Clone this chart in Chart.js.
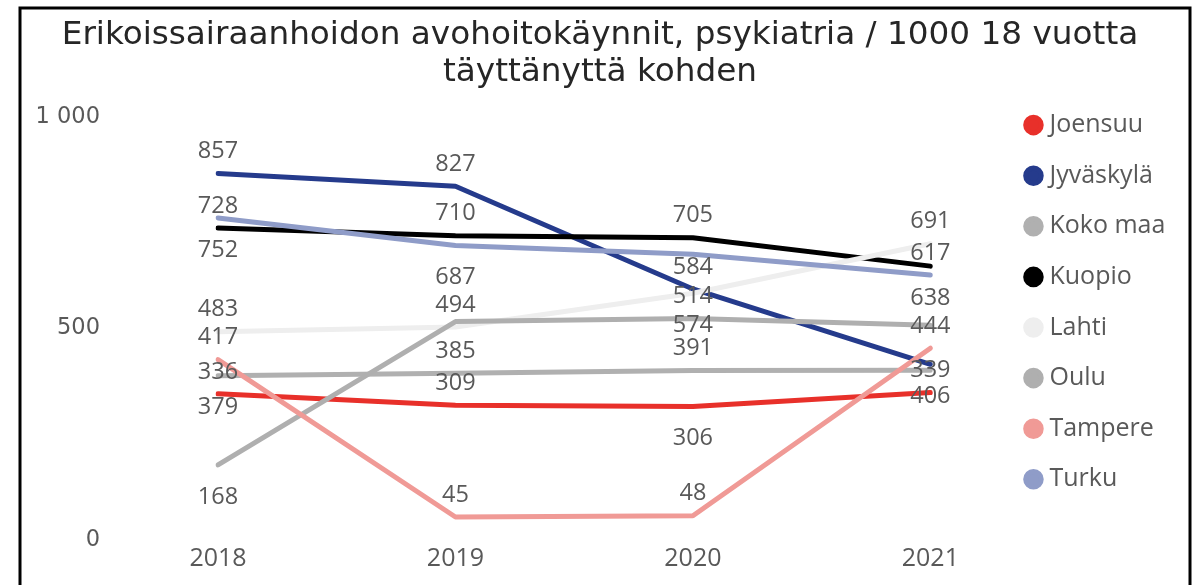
<!DOCTYPE html>
<html>
<head>
<meta charset="utf-8">
<script src="https://cdn.jsdelivr.net/npm/chart.js@4"></script>
<style>
  html, body { margin: 0; padding: 0; background: #fff; }
  #wrap { width: 1202px; height: 585px; }
</style>
</head>
<body>
<div id="wrap"><canvas id="myChart" width="1202" height="585"></canvas></div>
<script>
const years = ["2018", "2019", "2020", "2021"];
const seriesNames = ["Joensuu", "Jyväskylä", "Koko maa", "Kuopio", "Lahti", "Oulu", "Tampere", "Turku"];

const joensuu = [336, 309, 306, 339];
const jyvaskyla = [857, 827, 584, 406];
const kokoMaa = [379, 385, 391, 392];
const kuopio = [728, 710, 705, 638];
const lahti = [483, 494, 574, 691];
const oulu = [168, 507, 514, 498];
const tampere = [417, 45, 48, 444];
const turku = [752, 687, 666, 617];

const yTicks = [0, 500, 1000];

// where each value label sits: "a" above the point, "b" below, null = no label
const labelSpots = [
  ["a", "a", "b", "a"],
  ["a", "a", "a", "b"],
  ["b", "a", "a", null],
  ["a", "a", "a", "b"],
  ["a", "a", "b", "a"],
  ["b", null, "a", null],
  ["a", "a", "a", "a"],
  ["b", "b", null, "a"],
];

const colors = ["#e8302a", "#253b8c", "#b0b0b0", "#000000", "#eeeeee", "#afafaf", "#f09a96", "#8f9cc8"];
const allValues = [joensuu, jyvaskyla, kokoMaa, kuopio, lahti, oulu, tampere, turku];

const textGray = "#595959";
Chart.defaults.font.family = "'Open Sans', sans-serif";

function fmt(v) {
  return String(v).replace(/\B(?=(\d{3})+(?!\d))/g, " ");
}

const datasets = [];
for (let i = 0; i < seriesNames.length; i++) {
  datasets.push({
    label: seriesNames[i],
    data: allValues[i],
    borderColor: colors[i],
    backgroundColor: colors[i],
    borderWidth: 5,
    borderCapStyle: "round",
    borderJoinStyle: "round",
    pointRadius: 0,
    pointHoverRadius: 0,
    pointStyle: "circle",
    tension: 0,
    order: seriesNames.length - i, // later series drawn on top, like the original
  });
}

// white background and the outer frame
const framePlugin = {
  id: "frame",
  beforeDraw(chart) {
    const ctx = chart.ctx;
    ctx.save();
    ctx.fillStyle = "#fff";
    ctx.fillRect(0, 0, chart.width, chart.height);
    ctx.strokeStyle = "#000";
    ctx.lineWidth = 3;
    ctx.strokeRect(20, 8, 1170, 700);
    ctx.restore();
  },
};

// value labels above / below the points
const valueLabels = {
  id: "valueLabels",
  afterDatasetsDraw(chart) {
    const ctx = chart.ctx;
    ctx.save();
    ctx.font = "23.5px 'Open Sans', sans-serif";
    ctx.fillStyle = textGray;
    ctx.textAlign = "center";
    ctx.textBaseline = "middle";
    chart.data.datasets.forEach((ds, d) => {
      const meta = chart.getDatasetMeta(d);
      meta.data.forEach((pt, i) => {
        const spot = labelSpots[d][i];
        if (!spot) return;
        const dy = spot === "a" ? -22 : 32;
        ctx.fillText(fmt(ds.data[i]), pt.x, pt.y + dy);
      });
    });
    ctx.restore();
  },
};

new Chart(document.getElementById("myChart"), {
  type: "line",
  data: { labels: years, datasets: datasets },
  plugins: [framePlugin, valueLabels],
  options: {
    responsive: false,
    animation: false,
    layout: { padding: { left: 24.6, right: 26.6, top: 0, bottom: 0 } },
    plugins: {
      tooltip: { enabled: false },
      title: {
        display: true,
        text: ["Erikoissairaanhoidon avohoitokäynnit, psykiatria / 1000 18 vuotta", "täyttänyttä kohden"],
        color: "#262626",
        font: { family: "'DejaVu Sans', sans-serif", size: 32.7, weight: "normal", lineHeight: 37 / 32.7 },
        padding: { top: 17, bottom: 22 },
      },
      legend: {
        position: "right",
        align: "start",
        title: { display: true, text: "", padding: { top: 77, bottom: 0 }, font: { size: 10, lineHeight: 1 } },
        labels: {
          usePointStyle: true,
          boxWidth: 7,
          boxHeight: 11,
          padding: 25.6,
          color: textGray,
          font: { size: 25 },
          sort: (a, b) => a.datasetIndex - b.datasetIndex,
        },
      },
    },
    scales: {
      x: {
        offset: false,
        grid: { display: false },
        border: { display: false },
        ticks: { color: textGray, font: { size: 25 }, padding: 0 },
        afterFit(scale) { scale.height = 49; },
      },
      y: {
        min: 0,
        max: 1000,
        afterBuildTicks(scale) { scale.ticks = yTicks.map(v => ({ value: v })); },
        grid: { display: false },
        border: { display: false },
        ticks: {
          color: textGray,
          font: { family: "'DejaVu Sans', sans-serif", size: 22.5, lineHeight: "8px" },
          padding: 110,
          // empty first line nudges the number a few px down
          callback: v => ["", fmt(v)],
        },
        afterFit(scale) {
          scale.width = 218 - 24.6;
          scale.paddingTop = 14;
          scale.paddingBottom = 14;
        },
      },
      y2: {
        position: "right",
        display: true,
        grid: { display: false },
        border: { display: false },
        ticks: { display: false },
        afterFit(scale) { scale.width = 74; },
      },
    },
  },
});
</script>
</body>
</html>
